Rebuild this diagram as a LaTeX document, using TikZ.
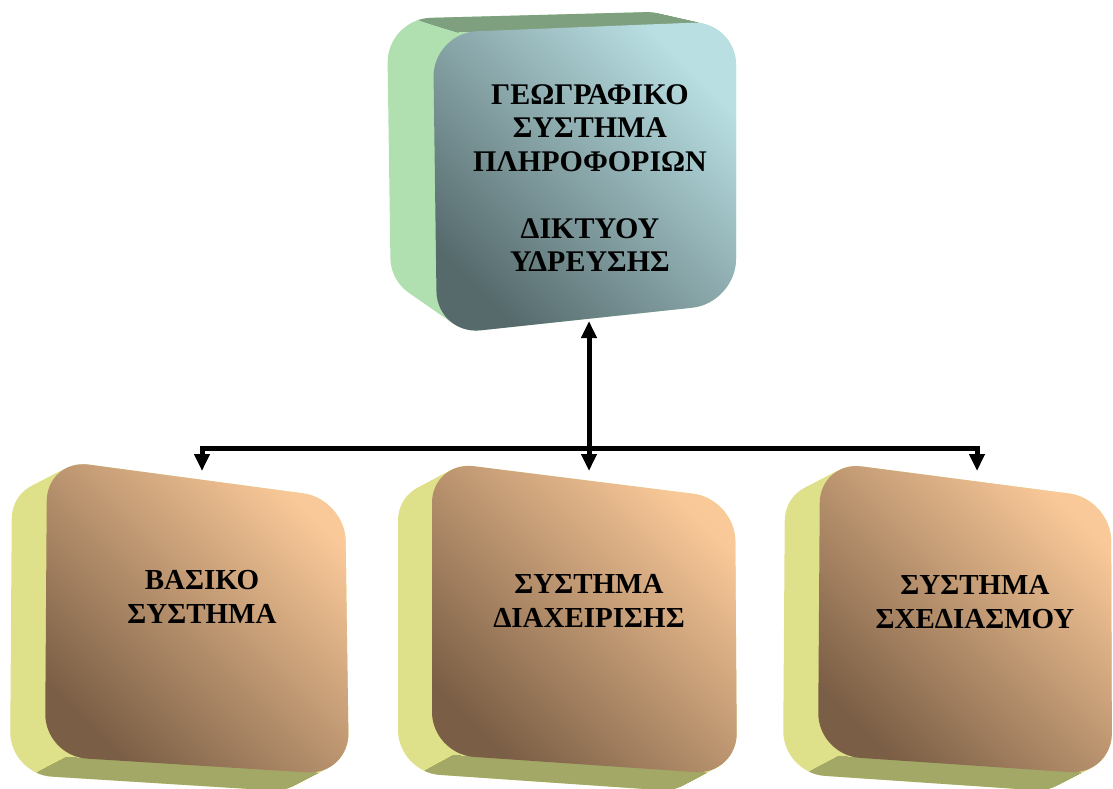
\documentclass[tikz,border=0pt]{standalone}
\usepackage{fontspec}
\setmainfont{Liberation Serif}
\usetikzlibrary{calc,arrows.meta}
\definecolor{topLight}{HTML}{B9DFE3}
\definecolor{topDark}{HTML}{566A6C}
\definecolor{greenSide}{HTML}{B0E0B0}
\definecolor{greenTop}{HTML}{7FA07F}
\definecolor{botLight}{HTML}{FAC999}
\definecolor{botDark}{HTML}{7A5E45}
\definecolor{yellowSide}{HTML}{DFE08A}
\definecolor{oliveBot}{HTML}{A3A866}
\newcommand{\extrudeslab}[2]{%
  \foreach \t in {0,0.05,...,1.01}{%
    \fill[#1, rounded corners=#2] ($(bTL)!\t!(fTL)$) -- ($(bTR)!\t!(fTR)$) -- ($(bBR)!\t!(fBR)$) -- ($(bBL)!\t!(fBL)$) -- cycle;
  }}
\newcommand{\topstrip}[2]{%
  \begin{scope}
    \clip ($(fTL)!0.08!(fTR)$) coordinate (c1) -- ($(fTL)!1.3!(fTR)$) -- ++(0,-120)
      -- ($(c1)+3*(bTL)-3*(fTL)$) -- cycle;
    \extrudeslab{#1}{#2}
  \end{scope}}
\newcommand{\botstrip}[2]{%
  \begin{scope}
    \clip ($(fBL)!0.07!(fBR)$) coordinate (c1) -- ($(fBL)!1.3!(fBR)$) -- ++(0,120)
      -- ($(c1)+3*(bBL)-3*(fBL)$) -- cycle;
    \extrudeslab{#1}{#2}
  \end{scope}}
\newcommand{\frontface}[3]{%
  \shade[rounded corners=#1, top color=#3, bottom color=#2, shading angle=-45]
    (fTL) -- (fTR) -- (fBR) -- (fBL) -- cycle;}
\tikzset{
  lbl/.style={align=center, font=\bfseries\fontsize{29}{34}\selectfont, text=black, inner sep=0pt},
  toplbl/.style={lbl, font=\bfseries\fontsize{30}{33.5}\selectfont},
  conn/.style={line width=5pt, line join=miter},
  tip/.style={-{Triangle[width=15pt,length=17pt]}},
}
\begin{document}
\begin{tikzpicture}[x=1pt,y=-1pt]
\useasboundingbox (0,0) rectangle (1113,789);
% ---- top box ----
\begin{scope}
  \coordinate (fTL) at (433,33); \coordinate (fTR) at (736,21);
  \coordinate (fBR) at (736,303); \coordinate (fBL) at (437,335);
  \coordinate (bTL) at (387,19); \coordinate (bTR) at (690,11);
  \coordinate (bBR) at (690,288); \coordinate (bBL) at (391,302);
  \extrudeslab{greenSide}{44pt}
  \topstrip{greenTop}{44pt}
  \frontface{44pt}{topDark}{topLight}
\end{scope}
% ---- box 1 ----
\begin{scope}
  \coordinate (fTL) at (47,459); \coordinate (fTR) at (345,499);
  \coordinate (fBR) at (349,775); \coordinate (fBL) at (45,756);
  \coordinate (bTL) at (12,477); \coordinate (bTR) at (310,517);
  \coordinate (bBR) at (314,793); \coordinate (bBL) at (10,774);
  \extrudeslab{yellowSide}{42pt}
  \botstrip{oliveBot}{42pt}
  \frontface{42pt}{botDark}{botLight}
\end{scope}
% ---- box 2 ----
\begin{scope}
  \coordinate (fTL) at (432,461); \coordinate (fTR) at (735,499);
  \coordinate (fBR) at (737,775); \coordinate (fBL) at (432,754);
  \coordinate (bTL) at (398,479); \coordinate (bTR) at (701,517);
  \coordinate (bBR) at (703,793); \coordinate (bBL) at (398,772);
  \extrudeslab{yellowSide}{42pt}
  \botstrip{oliveBot}{42pt}
  \frontface{42pt}{botDark}{botLight}
\end{scope}
% ---- box 3 ----
\begin{scope}
  \coordinate (fTL) at (820,461); \coordinate (fTR) at (1111,499);
  \coordinate (fBR) at (1112,775); \coordinate (fBL) at (818,755);
  \coordinate (bTL) at (785,479); \coordinate (bTR) at (1076,517);
  \coordinate (bBR) at (1077,793); \coordinate (bBL) at (783,773);
  \extrudeslab{yellowSide}{42pt}
  \botstrip{oliveBot}{42pt}
  \frontface{42pt}{botDark}{botLight}
\end{scope}
% ---- labels ----
\node[toplbl] (t0) at (590,178) {ΓΕΩΓΡΑΦΙΚΟ\\ΣΥΣΤΗΜΑ\\ΠΛΗΡΟΦΟΡΙΩΝ\\[33.5pt]ΔΙΚΤΥΟΥ\\ΥΔΡΕΥΣΗΣ};
\node[lbl] (b1) at (202,597) {ΒΑΣΙΚΟ\\ΣΥΣΤΗΜΑ};
\node[lbl] (b2) at (589,601) {ΣΥΣΤΗΜΑ\\ΔΙΑΧΕΙΡΙΣΗΣ};
\node[lbl] (b3) at (975,602) {ΣΥΣΤΗΜΑ\\ΣΧΕΔΙΑΣΜΟΥ};
% ---- connectors ----
\coordinate (L) at (202,448);
\coordinate (R) at (977,448);
\coordinate (J) at (589,448);
\coordinate (a0) at (589,321);
\coordinate (a1) at (202,471);
\coordinate (a2) at (589,471);
\coordinate (a3) at (977,471);
\draw[conn, {Triangle[width=15pt,length=17pt]}-{Triangle[width=15pt,length=17pt]}] (a1) -- (L) -- (R) -- (a3);
\draw[conn, tip] (J) -- (a2);
\draw[conn, tip] (J) -- (a0);
\end{tikzpicture}
\end{document}
